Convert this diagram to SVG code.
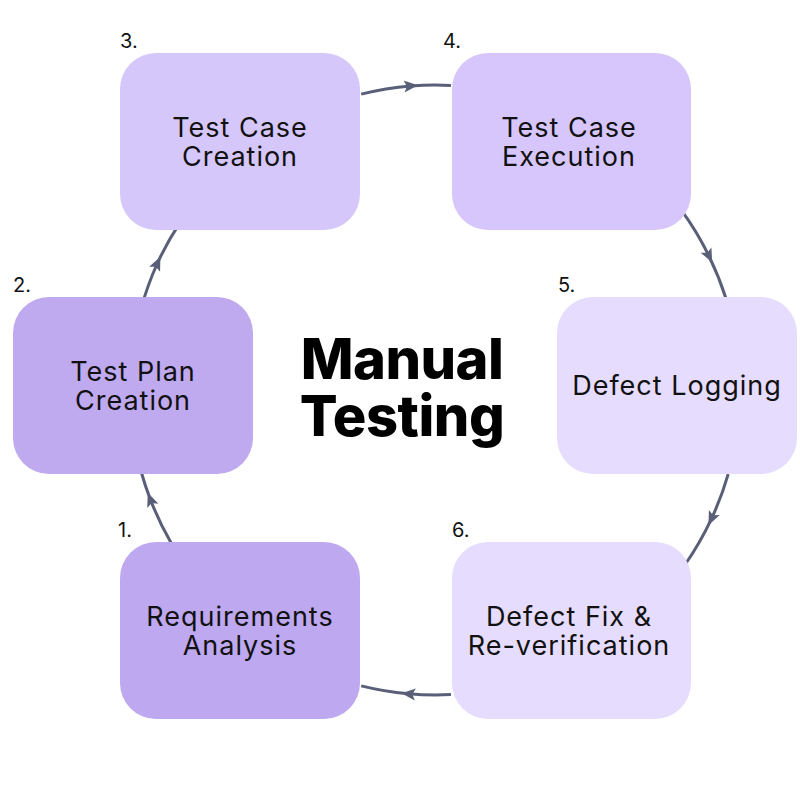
<svg xmlns="http://www.w3.org/2000/svg" width="800" height="800" viewBox="0 0 800 800">
<style>
.box{stroke:none}
.lbl{font-family:Inter,"Noto Sans",sans-serif;font-size:27px;letter-spacing:1px;fill:#111;text-anchor:middle}
.num{font-family:Inter,"Noto Sans",sans-serif;font-size:20px;fill:#111}
.title{font-family:Inter,"Noto Sans",sans-serif;font-size:56px;font-weight:800;letter-spacing:-0.5px;fill:#000;text-anchor:middle}
.conn{fill:none;stroke:#5a5f78;stroke-width:3;marker-mid:url(#arr)}
</style>
<defs>
<marker id="arr" markerUnits="userSpaceOnUse" viewBox="0 0 14 14" refX="7" refY="7" markerWidth="14" markerHeight="14" orient="auto">
<path d="M0,1 L14,7 L0,13 L3,7 Z" fill="#5a5f78"/>
</marker>
</defs>
<rect width="800" height="800" fill="#ffffff"/>
<g id="connectors">
<path class="conn" d="M361.2,94.1 A305,305 0 0 1 411,85.9 A305,305 0 0 1 451,85.4"/>
<path class="conn" d="M681.7,210.7 A305,305 0 0 1 709.1,256.3 A305,305 0 0 1 725.9,298.3"/>
<path class="conn" d="M728.2,474.1 A305,305 0 0 1 711.4,518.9 A305,305 0 0 1 684.8,565"/>
<path class="conn" d="M451,694.6 A305,305 0 0 1 408.4,693.8 A305,305 0 0 1 361.2,685.9"/>
<path class="conn" d="M170.9,542.5 A305,305 0 0 1 150.3,499.3 A305,305 0 0 1 141.1,471.5"/>
<path class="conn" d="M141.1,308.5 A305,305 0 0 1 157.5,263 A305,305 0 0 1 179.2,223.9"/>
</g>
<g id="node1">
<rect class="box" x="120" y="542" width="240" height="177" rx="36" fill="#bea8ef"/>
<text class="lbl" x="240" y="626">Requirements</text>
<text class="lbl" x="240" y="655">Analysis</text>
<text class="num" x="118" y="537">1.</text>
</g>
<g id="node2">
<rect class="box" x="13" y="297" width="240" height="177" rx="36" fill="#bfa9ef"/>
<text class="lbl" x="133" y="381">Test Plan</text>
<text class="lbl" x="133" y="410">Creation</text>
<text class="num" x="13" y="292">2.</text>
</g>
<g id="node3">
<rect class="box" x="120" y="53" width="240" height="177" rx="36" fill="#d6c7fb"/>
<text class="lbl" x="240" y="137">Test Case</text>
<text class="lbl" x="240" y="166">Creation</text>
<text class="num" x="120" y="48">3.</text>
</g>
<g id="node4">
<rect class="box" x="452" y="53" width="239" height="177" rx="36" fill="#d7c6fc"/>
<text class="lbl" x="569" y="137">Test Case</text>
<text class="lbl" x="569" y="166">Execution</text>
<text class="num" x="443" y="48">4.</text>
</g>
<g id="node5">
<rect class="box" x="557" y="297" width="240" height="177" rx="36" fill="#e6dcfd"/>
<text class="lbl" x="677" y="395">Defect Logging</text>
<text class="num" x="558" y="292">5.</text>
</g>
<g id="node6">
<rect class="box" x="452" y="542" width="239" height="177" rx="36" fill="#e6dcfd"/>
<text class="lbl" x="569" y="626">Defect Fix &amp;</text>
<text class="lbl" x="569" y="655">Re-verification</text>
<text class="num" x="452" y="537">6.</text>
</g>
<g id="title">
<text class="title" x="402" y="379">Manual</text>
<text class="title" x="402" y="436">Testing</text>
</g>
</svg>
